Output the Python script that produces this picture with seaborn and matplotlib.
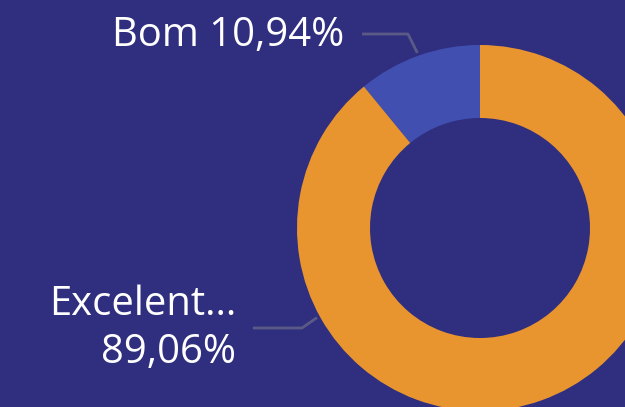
import numpy as np
import matplotlib
matplotlib.use("Agg")
import matplotlib.pyplot as plt
import seaborn as sns

# ---- data ----
categories = ["Bom", "Excelente"]
values = [10.94, 89.06]
labels_shown = ["Bom 10,94%", "Excelent...\n89,06%"]

# ---- style ----
BG = "#2f2e7f"
COLORS = ["#4150b0", "#e8952f"]
sns.set_theme(style="white")
plt.rcParams["font.family"] = ["Open Sans", "DejaVu Sans"]

W, H = 625, 407
fig = plt.figure(figsize=(W / 100, H / 100), dpi=100)
fig.patch.set_facecolor(BG)
ax = fig.add_axes([0, 0, 1, 1])
ax.set_facecolor(BG)

cx, cy = 480, H - 228
R, r = 183, 110
wedges, _ = ax.pie(values, colors=COLORS, startangle=90, counterclock=True,
                   radius=R, center=(cx, cy),
                   wedgeprops=dict(width=R - r, linewidth=0))
ax.set_xlim(0, W)
ax.set_ylim(0, H)
ax.set_aspect("equal")
ax.axis("off")

fs = 40 * 72 / 100
line_c = "#5b5a86"

# Bom label: leader from wedge midpoint
a0 = np.deg2rad(90 + values[0] / 100 * 360 / 2)
ex, ey = cx + 186 * np.cos(a0), cy + 186 * np.sin(a0)
ax.plot([362, 408, ex], [H - 34, H - 34, ey], color=line_c, lw=2, solid_capstyle="butt")
ax.text(344, H - 46, labels_shown[0], color="white", fontsize=fs,
        ha="right", va="baseline")

# Excelente label
a1 = np.deg2rad(208.8)
ex, ey = cx + 186 * np.cos(a1), cy + 186 * np.sin(a1)
ax.plot([253, 302, ex], [H - 328, H - 328, ey], color=line_c, lw=2, solid_capstyle="butt")
l1, l2 = labels_shown[1].split("\n")
ax.text(236, H - 315, l1, color="white", fontsize=fs, ha="right", va="baseline")
ax.text(236, H - 363, l2, color="white", fontsize=fs, ha="right", va="baseline")

fig.savefig("out.png", dpi=100, facecolor=BG)
